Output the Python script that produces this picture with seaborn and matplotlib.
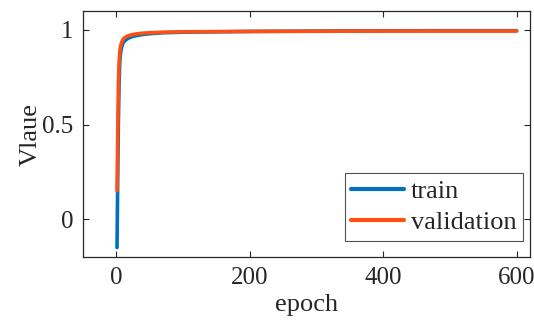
import matplotlib
matplotlib.use("Agg")
import matplotlib.pyplot as plt
import seaborn as sns
import pandas as pd

epochs = [1, 2, 3, 4, 5, 6, 8, 10, 12, 15, 20, 25, 30, 40, 50, 70, 100, 150, 200, 300, 400, 500, 600]
train = [-0.15, 0.20, 0.50, 0.70, 0.82, 0.87, 0.91, 0.93, 0.94, 0.950, 0.960, 0.966, 0.970, 0.976, 0.980, 0.985, 0.988, 0.990, 0.992, 0.994, 0.995, 0.996, 0.996]
validation = [0.15, 0.45, 0.70, 0.82, 0.88, 0.91, 0.935, 0.950, 0.958, 0.965, 0.972, 0.976, 0.979, 0.983, 0.985, 0.988, 0.990, 0.991, 0.992, 0.993, 0.994, 0.994, 0.994]

df = pd.DataFrame({
    "epoch": epochs * 2,
    "value": train + validation,
    "series": ["train"] * len(epochs) + ["validation"] * len(epochs),
})

sns.set_style("white")
plt.rcParams["font.family"] = ["Liberation Serif", "DejaVu Serif"]

fig = plt.figure(figsize=(5.34, 3.27), dpi=100)
ax = fig.add_axes([83 / 534, 1 - 257 / 327, (530 - 83) / 534, (257 - 11) / 327])

sns.lineplot(data=df, x="epoch", y="value", hue="series",
             palette={"train": "#0072BD", "validation": "#FF5014"},
             linewidth=2.6, ax=ax, legend=True)

ax.set_xlim(-50, 620)
ax.set_ylim(-0.2, 1.1)
ax.set_xticks([0, 200, 400, 600])
ax.set_yticks([0, 0.5, 1])
ax.set_yticklabels(["0", "0.5", "1"])
ax.set_xlabel("epoch", fontsize=19, color="#262626", labelpad=4)
ax.set_ylabel("Vlaue", fontsize=19, color="#262626", labelpad=0)
ax.tick_params(direction="in", length=4, width=0.8, labelsize=18, colors="#262626",
               top=True, right=True, bottom=True, left=True, pad=7)
for s in ax.spines.values():
    s.set_color("#262626")
    s.set_linewidth(0.9)
ax.grid(False)

leg = ax.legend(loc="lower right", bbox_to_anchor=(523 / 534, 1 - 241 / 327),
                bbox_transform=fig.transFigure, borderaxespad=0,
                fontsize=19, frameon=True, fancybox=False,
                edgecolor="#262626", handlelength=2.0, handletextpad=0.25,
                borderpad=0.25, labelspacing=0.3)
leg.get_frame().set_linewidth(0.8)
for line in leg.get_lines():
    line.set_linewidth(3)

fig.savefig("out.png", dpi=100)
